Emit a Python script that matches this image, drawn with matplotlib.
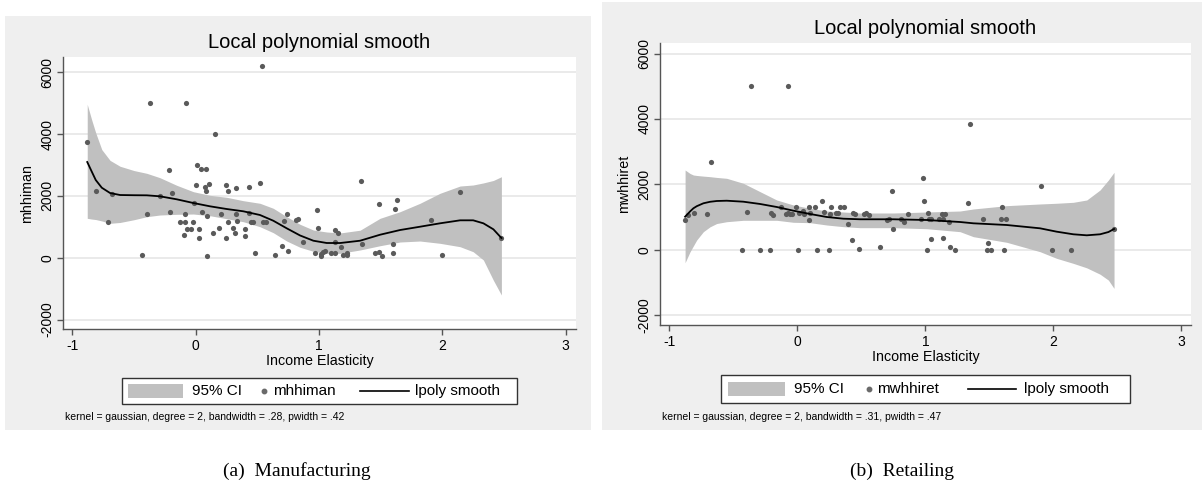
import matplotlib
matplotlib.use("Agg")
import matplotlib.pyplot as plt
from matplotlib.patches import Rectangle
from matplotlib.lines import Line2D

plt.rcParams['font.family'] = ['Liberation Sans', 'DejaVu Sans']
plt.rcParams['axes.unicode_minus'] = False

# ---- data: Manufacturing (mhhiman) ----
man_x = [-0.88, -0.81, -0.71, -0.676, -0.433, -0.368, -0.395, -0.29, -0.219, -0.19,
         -0.208, -0.13, -0.089, -0.087, -0.092, -0.071, -0.041, -0.076, -0.019, -0.011,
         0.005, 0.008, 0.043, 0.081, 0.027, 0.024, 0.051, 0.073, 0.083, 0.105,
         0.092, 0.089, 0.154, 0.14, 0.19, 0.208, 0.246, 0.259, 0.265, 0.246,
         0.30, 0.319, 0.324, 0.335, 0.327, 0.397, 0.40, 0.435, 0.432, 0.446,
         0.465, 0.481, 0.521, 0.538, 0.546, 0.570, 0.646, 0.702, 0.749, 0.714,
         0.74, 0.811, 0.827, 0.868, 0.965, 0.986, 0.992, 1.014, 1.019, 1.035,
         1.051, 1.10, 1.132, 1.154, 1.132, 1.132, 1.181, 1.195, 1.227, 1.23,
         1.338, 1.349, 1.454, 1.489, 1.513, 1.484, 1.597, 1.60, 1.614, 1.633,
         1.906, 1.995, 2.144, 2.479]
man_y = [3744, 2168, 1155, 2071, 87, 5000, 1414, 2006, 2848, 2084,
         1469, 1146, 1146, 1414, 744, 939, 939, 5000, 1146, 1780,
         2343, 3010, 2880, 2870, 929, 628, 1479, 2278, 2168, 2385,
         1349, 65, 4003, 799, 951, 1404, 2343, 2158, 1146, 647,
         961, 790, 2265, 1178, 1404, 939, 712, 2288, 1447, 1146,
         1146, 142, 2427, 6204, 1146, 1146, 78, 388, 207, 1197,
         1414, 1210, 1252, 518, 142, 1553, 951, 55, 129, 184,
         207, 142, 887, 790, 518, 142, 356, 97, 162, 97,
         2492, 434, 162, 194, 45, 1738, 162, 453, 1576, 1867,
         1220, 97, 2136, 638]

man_grid = [-0.88, -0.843, -0.811, -0.762, -0.695, -0.614, -0.50, -0.397, -0.29, -0.154,
            -0.019, 0.116, 0.251, 0.386, 0.521, 0.629, 0.738, 0.846, 0.954, 1.062,
            1.17, 1.333, 1.495, 1.657, 1.819, 1.981, 2.144, 2.25, 2.333, 2.414, 2.479]
man_fit = [3097, 2783, 2514, 2265, 2094, 2029, 2022, 2019, 1987, 1890,
           1770, 1663, 1576, 1502, 1382, 1197, 951, 720, 550, 476,
           475, 550, 744, 896, 1003, 1113, 1210, 1210, 1113, 919, 638]
man_hi = [4964, 4450, 4040, 3500, 3150, 2960, 2820, 2731, 2589, 2343,
          2136, 2019, 1955, 1845, 1761, 1599, 1327, 1081, 896, 832,
          800, 890, 1275, 1489, 1761, 2084, 2320, 2353, 2420, 2500, 2621]
man_lo = [1275, 1250, 1235, 1190, 1113, 1140, 1230, 1327, 1382, 1404,
          1414, 1359, 1262, 1165, 1003, 809, 540, 337, 207, 142,
          142, 250, 388, 508, 540, 466, 356, 194, -74, -730, -1207]

# ---- data: Retailing (mwhhiret) ----
ret_x = [-0.877, -0.854, -0.807, -0.705, -0.672, -0.43, -0.393, -0.364, -0.289, -0.216,
         -0.205, -0.187, -0.127, -0.091, -0.073, -0.07, -0.058, -0.04, -0.013, 0.003,
         0.016, 0.047, 0.052, 0.089, 0.094, 0.096, 0.141, 0.156, 0.193, 0.206,
         0.248, 0.253, 0.263, 0.302, 0.315, 0.334, 0.365, 0.399, 0.43, 0.433,
         0.453, 0.482, 0.521, 0.539, 0.558, 0.646, 0.70, 0.714, 0.74, 0.75,
         0.813, 0.831, 0.867, 0.966, 0.984, 0.99, 1.013, 1.021, 1.026, 1.045,
         1.045, 1.107, 1.136, 1.128, 1.156, 1.136, 1.182, 1.193, 1.232, 1.336,
         1.347, 1.448, 1.487, 1.482, 1.511, 1.591, 1.599, 1.631, 1.612, 1.904,
         1.99, 2.138, 2.474]
ret_y = [899, 1061, 1113, 1083, 2673, 0, 1144, 5000, 0, 0,
         1122, 1070, 1315, 1092, 5000, 1122, 1083, 1083, 1315, 0,
         1113, 1183, 1083, 1315, 899, 1131, 1315, 0, 1480, 1144,
         0, 1083, 1315, 1113, 1113, 1315, 1315, 777, 297, 1113,
         1092, 21, 1083, 1113, 1061, 83, 908, 939, 1795, 624,
         939, 847, 1083, 939, 2183, 1480, 0, 1113, 939, 939,
         336, 939, 939, 1101, 1092, 358, 838, 92, 0, 1428,
         3844, 939, 205, 0, 0, 939, 1297, 948, 0, 1957,
         0, 0, 633]

ret_grid = [-0.877, -0.838, -0.812, -0.786, -0.734, -0.682, -0.63, -0.552, -0.422, -0.291,
            -0.161, -0.031, 0.099, 0.23, 0.359, 0.49, 0.75, 1.011, 1.271, 1.375,
            1.636, 1.896, 2.026, 2.156, 2.261, 2.365, 2.43, 2.474]
ret_fit = [1009, 1170, 1266, 1330, 1419, 1465, 1489, 1498, 1468, 1398,
           1306, 1193, 1092, 1000, 948, 930, 930, 908, 847, 807,
           755, 654, 551, 471, 440, 471, 540, 633]
ret_hi = [2437, 2330, 2284, 2270, 2250, 2233, 2210, 2183, 2031, 1774,
          1520, 1367, 1266, 1183, 1153, 1122, 1122, 1153, 1183, 1245,
          1347, 1398, 1420, 1449, 1520, 1826, 2131, 2365]
ret_lo = [-397, -61, 118, 297, 551, 700, 800, 856, 899, 899,
          899, 838, 826, 755, 704, 673, 673, 642, 551, 398,
          226, -61, -265, -418, -555, -750, -930, -1183]

x_ticks = [-1, 0, 1, 2, 3]
y_ticks = [-2000, 0, 2000, 4000, 6000]

W, H = 1202, 487
fig = plt.figure(figsize=(W / 100, H / 100), dpi=100)
fig.patch.set_facecolor('white')


def fx(px):
    return px / W


def fy(py):
    return 1 - py / H


def panel(box, plot, xlim, ylim, xs, ys, grid, fit, lo, hi, yname, title_y,
          legend, note):
    # gray graph region
    fig.add_artist(Rectangle((fx(box[0]), fy(box[3])), (box[2] - box[0]) / W,
                             (box[3] - box[1]) / H, transform=fig.transFigure,
                             facecolor='#efefef', edgecolor='none', zorder=0))
    l, t, r, b = plot
    ax = fig.add_axes([fx(l), fy(b), (r - l) / W, (b - t) / H])
    ax.set_facecolor('white')
    ax.set_xlim(*xlim)
    ax.set_ylim(*ylim)
    for yt in y_ticks:
        ax.axhline(yt, color='#e8e8e8', lw=1.3, zorder=0)
    ax.fill_between(grid, lo, hi, color='#c0c0c0', lw=0, zorder=1)
    ax.scatter(xs, ys, s=14, color='#5a5a5a', lw=0, zorder=2)
    ax.plot(grid, fit, color='black', lw=1.3, zorder=3)
    for s in ['top', 'right']:
        ax.spines[s].set_visible(False)
    for s in ['left', 'bottom']:
        ax.spines[s].set_color('#555555')
        ax.spines[s].set_linewidth(1.0)
    ax.set_xticks(x_ticks)
    ax.set_yticks(y_ticks)
    ax.tick_params(axis='both', colors='#555555', labelcolor='black',
                   labelsize=10, length=4, width=1)
    ax.tick_params(axis='x', pad=3)
    ax.tick_params(axis='y', pad=2)
    for lab in ax.get_yticklabels():
        lab.set_rotation(90)
        lab.set_va('center')
    fig.text(fx((l + r) / 2), fy(title_y), 'Local polynomial smooth',
             fontsize=14.5, ha='center', va='center')
    fig.text(fx((l + r) / 2), fy(b + 32), 'Income Elasticity',
             fontsize=10.3, ha='center', va='center')
    fig.text(fx(l - 36), fy((t + b) / 2), yname, fontsize=10.3, rotation=90,
             ha='center', va='center')

    # legend box
    bx0, bx1, by0, by1, p0, p1, t1, dot, t2, ln0, ln1, t3 = legend
    fig.add_artist(Rectangle((fx(bx0), fy(by1)), (bx1 - bx0) / W, (by1 - by0) / H,
                             transform=fig.transFigure, facecolor='white',
                             edgecolor='#333333', lw=1.0, zorder=2))
    ym = (by0 + by1) / 2
    fig.add_artist(Rectangle((fx(p0), fy(ym + 7)), (p1 - p0) / W, 14 / H,
                             transform=fig.transFigure, facecolor='#c0c0c0',
                             edgecolor='none', zorder=3))
    fig.text(fx(t1), fy(ym), '95% CI', fontsize=11, ha='left', va='center')
    fig.add_artist(Line2D([fx(dot)], [fy(ym)], marker='o', markersize=3.2,
                          color='#6a6a6a', lw=0, transform=fig.transFigure))
    fig.text(fx(t2), fy(ym), yname, fontsize=11, ha='left', va='center')
    fig.add_artist(Line2D([fx(ln0), fx(ln1)], [fy(ym), fy(ym)], color='black',
                          lw=1.2, transform=fig.transFigure))
    fig.text(fx(t3), fy(ym), 'lpoly smooth', fontsize=11, ha='left', va='center')
    fig.text(fx(l + 2), fy(417), note, fontsize=7.5, ha='left', va='center')
    return ax


panel(box=(5, 16, 590.7, 430), plot=(62.7, 57.3, 576, 329.3),
      xlim=(-1.079, 3.084), ylim=(-2317, 6486),
      xs=man_x, ys=man_y, grid=man_grid, fit=man_fit, lo=man_lo, hi=man_hi,
      yname='mhhiman', title_y=42,
      legend=(121.7, 517, 377.7, 404.3, 128.3, 183, 192.3, 264, 273.3, 360, 409, 415),
      note='kernel = gaussian, degree = 2, bandwidth = .28, pwidth = .42')

panel(box=(602, 2, 1202, 430), plot=(660, 43.3, 1190.7, 325),
      xlim=(-1.073, 3.073), ylim=(-2303, 6312),
      xs=ret_x, ys=ret_y, grid=ret_grid, fit=ret_fit, lo=ret_lo, hi=ret_hi,
      yname='mwhhiret', title_y=28,
      legend=(721, 1130, 375.3, 403.3, 728.3, 785, 794.3, 869.3, 876.7, 967.7, 1016, 1024),
      note='kernel = gaussian, degree = 2, bandwidth = .31, pwidth = .47')

fig.text(fx(297), fy(471), '(a)  Manufacturing', fontsize=14, ha='center', va='center',
         family=['Liberation Serif', 'DejaVu Serif'])
fig.text(fx(902), fy(471), '(b)  Retailing', fontsize=14, ha='center', va='center',
         family=['Liberation Serif', 'DejaVu Serif'])

fig.savefig('out.png', dpi=100)
